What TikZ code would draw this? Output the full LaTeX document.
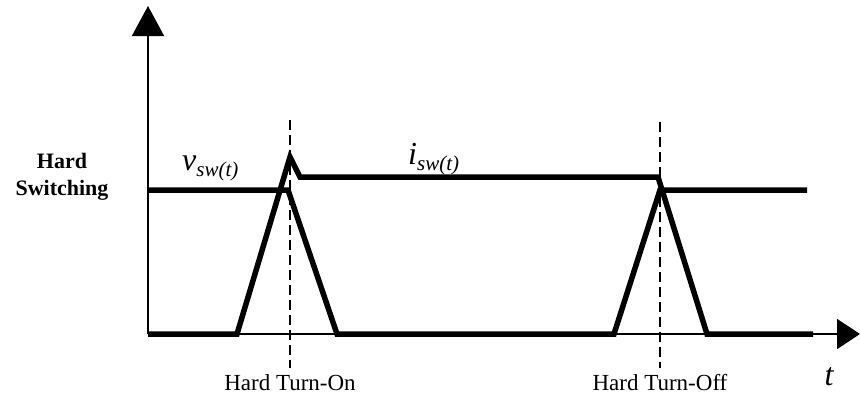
\documentclass[tikz,border=0pt]{standalone}
\usepackage{fontspec}
\setmainfont{Liberation Serif}
\usetikzlibrary{arrows.meta}

\newcommand{\sigName}[2]{{\fontsize{32}{32}\selectfont\itshape #1}{\fontsize{21}{21}\selectfont\itshape\raisebox{-6pt}{#2}}}

\begin{document}
\begin{tikzpicture}[x=1pt, y=-1pt]
    \definecolor{waveColour}{HTML}{000000}

    \def\lowLevel{334}
    \def\highLevel{190}
    \def\topLevel{177}

    \tikzset{
        axisLine/.style={line width=1.8pt, draw=waveColour},
        waveLine/.style={line width=5.5pt, draw=waveColour, line join=miter},
        markLine/.style={line width=1.1pt, dash pattern=on 10pt off 5pt},
        labelText/.style={font=\fontsize{23}{23}\selectfont, inner sep=0pt}
    }

    \useasboundingbox (0,0) rectangle (860,400);

    % Draw axes
    \coordinate (O) at (148,\lowLevel);
    \coordinate (yEnd) at (148,6);
    \coordinate (xEnd) at (860,\lowLevel);
    \draw[axisLine, -{Triangle[length=30pt,width=32pt]}] (O) -- (yEnd);
    \draw[axisLine, -{Triangle[length=23pt,width=30pt]}] (O) -- (xEnd);

    % Draw the switching instants
    \coordinate (onTop) at (290,120);
    \coordinate (onBot) at (290,368);
    \coordinate (offTop) at (660,122);
    \coordinate (offBot) at (660,368);
    \draw[markLine] (onTop) -- (onBot);
    \draw[markLine] (offTop) -- (offBot);

    % Voltage across the switch
    \draw[waveLine] (148,\highLevel) -- (288,\highLevel) -- (337,\lowLevel)
        -- (614,\lowLevel) -- (660,\highLevel) -- (807,\highLevel);

    % Current through the switch
    \draw[waveLine] (148,\lowLevel) -- (237,\lowLevel) -- (290,157) -- (300,\topLevel)
        -- (658,\topLevel) -- (707,\lowLevel) -- (813,\lowLevel);

    % Labels
    \node[anchor=base west, inner sep=0pt] (vLabel) at (182,170) {\sigName{v}{sw(t)}};
    \node[anchor=base west, inner sep=0pt] (iLabel) at (408,164) {\sigName{i}{sw(t)}};
    \node[font=\fontsize{22}{27}\selectfont\bfseries, align=center, inner sep=0pt] (modeLabel) at (62,177) {Hard\\Switching};
    \node[labelText] (onLabel) at (290,383) {Hard Turn-On};
    \node[labelText] (offLabel) at (660,383) {Hard Turn-Off};
    \node[font=\fontsize{32}{32}\selectfont\itshape, inner sep=0pt] (tLabel) at (829,377) {t};

\end{tikzpicture}
\end{document}
